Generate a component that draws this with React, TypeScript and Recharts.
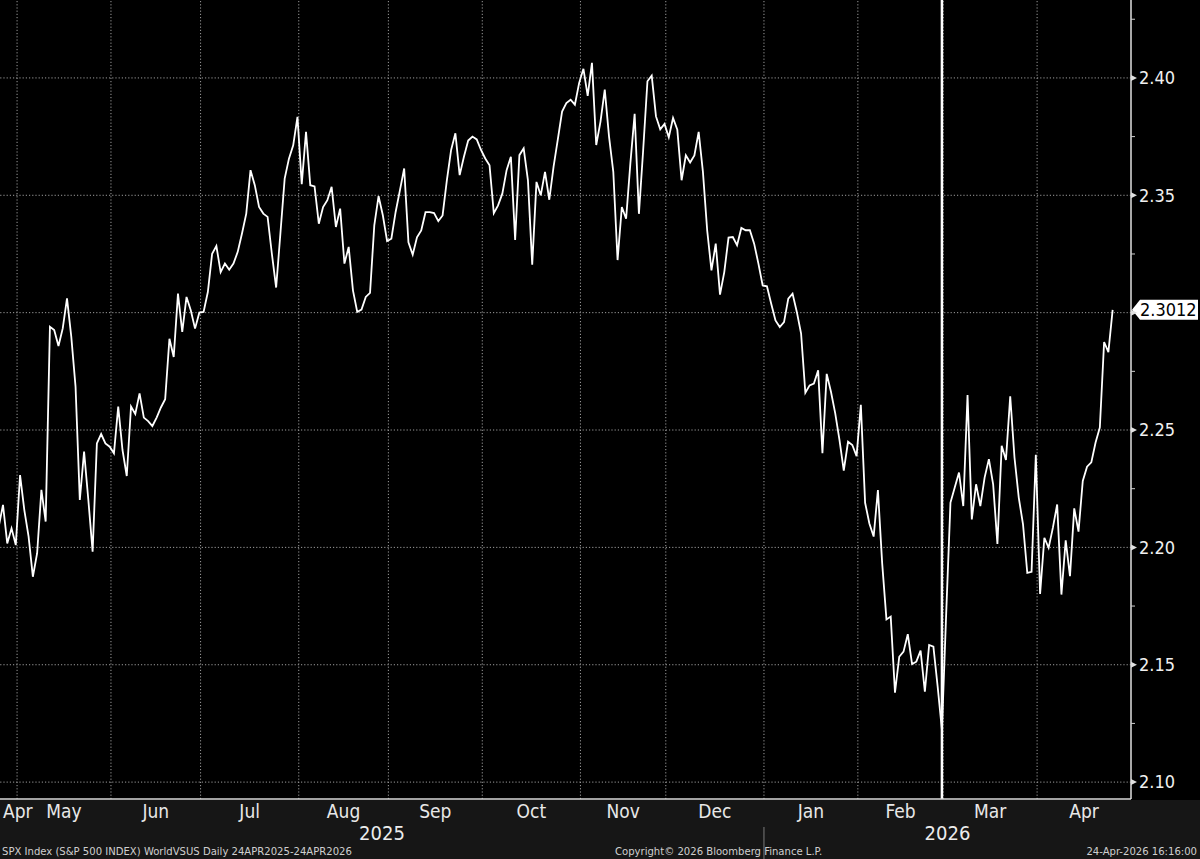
import React from 'react'
import { LineChart, Line, XAxis, YAxis, ReferenceLine } from 'recharts'

// weekday series, first point 24 Apr 2025
const startDate = '2025-04-24'
const axisEndDate = '2026-05-01'
const markerDate = '2026-02-27'

const ratio = [
  2.2088, 2.2181, 2.2017, 2.2081, 2.201, 2.2308, 2.2159, 2.2046, 2.1875, 2.1975,
  2.2245, 2.211, 2.294, 2.2926, 2.2858, 2.2933, 2.3061, 2.2898, 2.2685, 2.2202,
  2.2408, 2.2202, 2.1982, 2.2443, 2.2483, 2.2443, 2.2429, 2.2401, 2.26, 2.2415,
  2.2304, 2.26, 2.2568, 2.2656, 2.2553, 2.2538, 2.2517, 2.2553, 2.2596, 2.2631,
  2.2889, 2.2811, 2.3081, 2.2918, 2.3067, 2.301, 2.2932, 2.3, 2.3003, 2.3088,
  2.3251, 2.3284, 2.3173, 2.3209, 2.3183, 2.3209, 2.3259, 2.3337, 2.3422, 2.3607,
  2.3543, 2.345, 2.3422, 2.3408, 2.3251, 2.3107, 2.3337, 2.3571, 2.3656, 2.3713,
  2.3834, 2.3547, 2.377, 2.3543, 2.3538, 2.3379, 2.345, 2.3479, 2.3536, 2.3365,
  2.3443, 2.3209, 2.328, 2.3095, 2.3003, 2.3013, 2.3067, 2.3084, 2.3372, 2.3496,
  2.3415, 2.3305, 2.3315, 2.3429, 2.3521, 2.3614, 2.33, 2.3247, 2.3321, 2.335,
  2.3428, 2.3428, 2.3424, 2.339, 2.3414, 2.3564, 2.3693, 2.3764, 2.3586, 2.3664,
  2.3733, 2.375, 2.3738, 2.3693, 2.3657, 2.3628, 2.3424, 2.3457, 2.3507, 2.3607,
  2.3664, 2.331, 2.3671, 2.37, 2.3564, 2.3204, 2.3557, 2.35, 2.36, 2.3481,
  2.3621, 2.3738, 2.3857, 2.3893, 2.3907, 2.3886, 2.3979, 2.4039, 2.3924, 2.4064,
  2.3714, 2.3814, 2.395, 2.375, 2.36, 2.3224, 2.345, 2.34, 2.3636, 2.3847,
  2.3421, 2.3693, 2.3986, 2.401, 2.3836, 2.3781, 2.3804, 2.3747, 2.3829, 2.3779,
  2.3564, 2.367, 2.364, 2.367, 2.377, 2.36, 2.335, 2.318, 2.3294, 2.3077,
  2.3173, 2.332, 2.3322, 2.3287, 2.3361, 2.3351, 2.3351, 2.3294, 2.3209, 2.3116,
  2.3112, 2.3038, 2.2967, 2.2939, 2.296, 2.306, 2.3081, 2.3003, 2.2911, 2.2659,
  2.269, 2.2698, 2.2754, 2.2401, 2.2739, 2.2663, 2.2571, 2.2457, 2.2327, 2.245,
  2.2436, 2.2389, 2.2607, 2.219, 2.2102, 2.2046, 2.2244, 2.1932, 2.1693, 2.1705,
  2.1381, 2.1534, 2.1556, 2.163, 2.1503, 2.1513, 2.156, 2.1385, 2.1584, 2.1577,
  2.1407, 2.1222, 2.172, 2.2191, 2.2255, 2.2319, 2.2176, 2.2649, 2.2119, 2.2269,
  2.2176, 2.2297, 2.2376, 2.2269, 2.2015, 2.2433, 2.2372, 2.2644, 2.2383, 2.2212,
  2.2098, 2.1891, 2.1896, 2.2394, 2.1802, 2.2041, 2.1998, 2.2084, 2.2183, 2.1799,
  2.203, 2.1877, 2.2166, 2.2067, 2.2283, 2.2344, 2.2362, 2.2447, 2.2511, 2.2875,
  2.2832, 2.3012,
]

const majorTicks = [2.1, 2.15, 2.2, 2.25, 2.3, 2.35, 2.4]
const minorTicks = [2.125, 2.175, 2.225, 2.275, 2.325, 2.375, 2.425]
const monthNames = ['Jan', 'Feb', 'Mar', 'Apr', 'May', 'Jun', 'Jul', 'Aug', 'Sep', 'Oct', 'Nov', 'Dec']

const footerLeft = 'SPX Index (S&P 500 INDEX) WorldVSUS Daily 24APR2025-24APR2026'
const footerMid = 'Copyright\u00a9 2026 Bloomberg Finance L.P.'
const footerRight = '24-Apr-2026 16:16:00'

const FONT = "'DejaVu Sans Condensed', 'DejaVu Sans', sans-serif"
const Y_DOMAIN = [2.0928, 2.4332]
const X_START = 0.3
const SHIFT = 0.7 // gridlines sit just before the first day of a month
const GRID = '#9c9c9c'

function weekdays(from: string, to: string) {
  const out: Date[] = []
  const d = new Date(from + 'T00:00:00Z')
  const end = new Date(to + 'T00:00:00Z')
  while (d <= end) {
    const wd = d.getUTCDay()
    if (wd !== 0 && wd !== 6) out.push(new Date(d))
    d.setUTCDate(d.getUTCDate() + 1)
  }
  return out
}

const days = weekdays(startDate, axisEndDate)
const data = ratio.map((v, i) => ({ i, v }))
const lastValue = ratio[ratio.length - 1]
const markerIdx = days.findIndex((d) => d.toISOString().slice(0, 10) === markerDate)

// month boundaries
const bounds: { idx: number; month: number }[] = []
days.forEach((d, i) => {
  if (i > 0 && d.getUTCMonth() !== days[i - 1].getUTCMonth()) {
    bounds.push({ idx: i - SHIFT, month: d.getUTCMonth() })
  }
})
const X_END = bounds[bounds.length - 1].idx
const gridX = bounds.slice(0, -1).map((b) => b.idx)

const monthTicks: { pos: number; label: string }[] = []
let prev = X_START
let prevMonth = days[0].getUTCMonth()
bounds.forEach((b) => {
  monthTicks.push({ pos: (prev + b.idx) / 2, label: monthNames[prevMonth] })
  prev = b.idx
  prevMonth = b.month
})

const yearBreak = bounds.find((b) => b.month === 0)!.idx
const yearTicks = [
  { pos: (X_START + yearBreak) / 2, label: '2025' },
  { pos: yearBreak, label: '' },
  { pos: (yearBreak + X_END) / 2, label: '2026' },
]

const MonthTick = (props: any) => {
  const { x, y, payload, index } = props
  const t = monthTicks.find((m) => m.pos === payload.value)
  return (
    <text
      x={index === 0 ? x - 5.5 : x}
      y={y + 19}
      textAnchor={index === 0 ? 'start' : 'middle'}
      fill="#e8e8e8"
      fontSize={19}
      fontFamily={FONT}
    >
      {t ? t.label : ''}
    </text>
  )
}

const YearTick = (props: any) => {
  const { x, y, payload } = props
  const t = yearTicks.find((m) => m.pos === payload.value)
  if (t && t.label === '') {
    return <line x1={x} x2={x} y1={y + 4} y2={y + 36} stroke="#7a7a7a" strokeWidth={1} />
  }
  return (
    <text x={x} y={y + 17} textAnchor="middle" fill="#ececec" fontSize={20} fontFamily={FONT}>
      {t ? t.label : ''}
    </text>
  )
}

const PriceTick = (props: any) => {
  const { x, y, payload } = props
  const major = majorTicks.includes(payload.value)
  if (!major) {
    return <line x1={x} x2={x + 4} y1={y} y2={y} stroke="#d0d0d0" strokeWidth={1} />
  }
  const covered = Math.abs(payload.value - lastValue) < 0.012
  return (
    <g>
      <polygon points={`${x},${y - 3} ${x + 6},${y} ${x},${y + 3}`} fill="#e0e0e0" />
      {!covered && (
        <text x={x + 8} y={y} dy="0.35em" fill="#f0f0f0" fontSize={18} fontFamily={FONT}>
          {payload.value.toFixed(2)}
        </text>
      )}
    </g>
  )
}

const LastTag = (props: any) => {
  const vb = props.viewBox || {}
  const x = vb.x + vb.width + 1
  const y = vb.y
  return (
    <g>
      <polygon
        points={`${x},${y} ${x + 8},${y - 10} ${x + 66},${y - 10} ${x + 66},${y + 10} ${x + 8},${y + 10}`}
        fill="#ffffff"
      />
      <text x={x + 8} y={y} dy="0.36em" fill="#000000" fontSize={18} fontFamily={FONT}>
        {lastValue.toFixed(4)}
      </text>
    </g>
  )
}

export default function App() {
  return (
    <div style={{ position: 'absolute', left: 0, top: 0, width: 1200, height: 859, background: '#000' }}>
      <div style={{ position: 'absolute', left: 0, top: 800, width: 1200, height: 59, background: '#161616' }} />
      <div style={{ position: 'absolute', left: 0, top: 0 }}>
        <LineChart width={1200} height={859} data={data} margin={{ top: 0, right: 0, bottom: 18, left: 0 }}>
          <XAxis
            dataKey="i"
            type="number"
            domain={[X_START, X_END]}
            allowDataOverflow
            ticks={monthTicks.map((m) => m.pos)}
            tick={<MonthTick />}
            tickLine={false}
            tickSize={0}
            tickMargin={0}
            height={24}
            interval={0}
            axisLine={{ stroke: '#d8d8d8', strokeWidth: 1.5 }}
          />
          <XAxis
            xAxisId="year"
            type="number"
            dataKey="i"
            domain={[X_START, X_END]}
            allowDataOverflow
            ticks={yearTicks.map((m) => m.pos)}
            tick={<YearTick />}
            tickLine={false}
            tickSize={0}
            tickMargin={0}
            height={18}
            interval={0}
            axisLine={false}
          />
          <YAxis
            orientation="right"
            domain={Y_DOMAIN}
            allowDataOverflow
            ticks={[...majorTicks, ...minorTicks].sort((a, b) => a - b)}
            tick={<PriceTick />}
            tickLine={false}
            tickSize={0}
            tickMargin={0}
            width={69}
            interval={0}
            axisLine={{ stroke: '#e0e0e0', strokeWidth: 1.5 }}
          />
          {majorTicks.map((t) => (
            <ReferenceLine key={'h' + t} y={t} stroke={GRID} strokeDasharray="1.2 2" strokeWidth={1} />
          ))}
          {gridX.map((g) => (
            <ReferenceLine key={'v' + g} x={g} stroke={GRID} strokeDasharray="1.2 2" strokeWidth={1} />
          ))}
          <ReferenceLine x={markerIdx} stroke="#ffffff" strokeWidth={2.5} />
          <Line
            dataKey="v"
            type="linear"
            stroke="#ffffff"
            strokeWidth={1.8}
            dot={false}
            isAnimationActive={false}
          />
          <ReferenceLine y={lastValue} stroke="none" label={<LastTag />} />
        </LineChart>
      </div>
      <svg width={1200} height={859} style={{ position: 'absolute', left: 0, top: 0, pointerEvents: 'none' }}>
        <text x={2} y={855} fill="#cfcfcf" fontSize={11.2} fontFamily={FONT}>{footerLeft}</text>
        <text x={615} y={855} fill="#cfcfcf" fontSize={11.2} fontFamily={FONT}>{footerMid}</text>
        <text x={1197} y={855} textAnchor="end" fill="#cfcfcf" fontSize={11.2} fontFamily={FONT}>{footerRight}</text>
      </svg>
    </div>
  )
}
